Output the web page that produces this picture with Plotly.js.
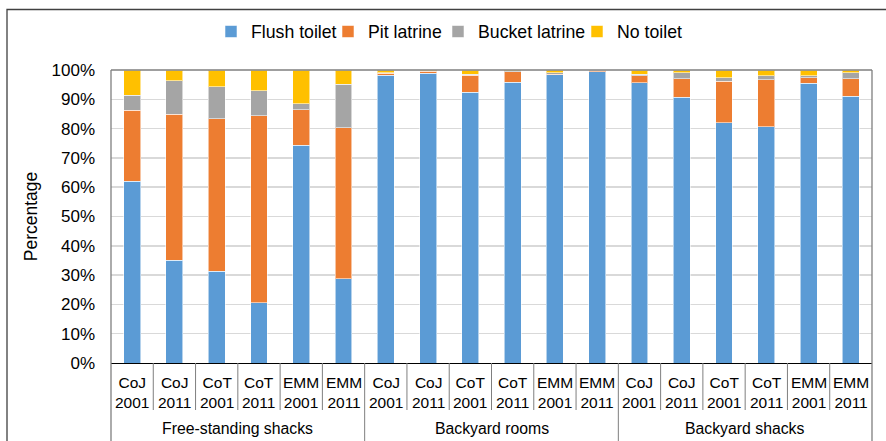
<!DOCTYPE html>
<html>
<head>
<meta charset="utf-8">
<script src="https://cdn.plot.ly/plotly-3.0.1.min.js"></script>
<style>html,body{margin:0;padding:0;background:#fff;}#chart{width:886px;height:441px;}</style>
</head>
<body>
<div id="chart"></div>
<script>
// ---- data ----
const groups = ['Free-standing shacks', 'Backyard rooms', 'Backyard shacks'];
const cities = ['CoJ', 'CoJ', 'CoT', 'CoT', 'EMM', 'EMM'];
const years = ['2001', '2011', '2001', '2011', '2001', '2011'];
const seriesNames = ['Flush toilet', 'Pit latrine', 'Bucket latrine', 'No toilet'];
const flushToilet = [62.0, 35.0, 31.4, 20.5, 74.3, 28.7, 98.2, 98.9, 92.4, 95.8, 98.3, 99.4, 95.6, 90.7, 82.0, 80.6, 95.5, 91.0];
const pitLatrine = [24.3, 49.9, 52.0, 63.9, 12.2, 51.6, 0.7, 0.6, 5.8, 3.6, 0.2, 0.4, 2.4, 6.4, 14.1, 16.1, 1.9, 6.1];
const bucketLatrine = [5.1, 11.5, 10.9, 8.5, 2.0, 14.8, 0.1, 0.2, 0.3, 0.3, 0.6, 0.1, 0.6, 1.9, 1.3, 1.3, 0.7, 2.0];
const noToilet = [8.6, 3.6, 5.7, 7.1, 11.5, 4.9, 1.0, 0.3, 1.5, 0.3, 0.9, 0.1, 1.4, 1.0, 2.6, 2.0, 1.9, 0.9];
const yTicks = [0, 10, 20, 30, 40, 50, 60, 70, 80, 90, 100];

// ---- build ----
const colors = ['#5B9BD5', '#ED7D31', '#A5A5A5', '#FFC000'];
const legendWidths = [72, 65, 94, 70];
const values = [flushToilet, pitLatrine, bucketLatrine, noToilet];
const n = groups.length * cities.length;
const xs = Array.from({length: n}, (_, i) => i);

const traces = values.map((v, k) => ({
  type: 'bar', x: xs, y: v, name: seriesNames[k], legendwidth: legendWidths[k],
  marker: {color: colors[k], line: {color: 'rgba(255,255,255,0.55)', width: 1}},
  hoverinfo: 'y+name'
}));

const FONT = 'Liberation Sans, Arial, sans-serif';
const W = 886, H = 441, ML = 111, MR = 14, MT = 70, MB = 78;
const pw = W - ML - MR, ph = H - MT - MB;
const py = px => (H - MB - px) / ph;   // pixel y -> paper y
const pxX = px => (px - ML) / pw;      // pixel x -> paper x
const xPaper = v => (v + 0.5) / n;     // data x -> paper x (range -0.5..n-0.5)

const shapes = [];
const annotations = [];
const lineC = '#7f7f7f';
for (let i = 0; i < n - 1; i++) {
  const isGroup = (i + 1) % cities.length === 0;
  shapes.push({type: 'line', xref: 'paper', yref: 'paper',
    x0: xPaper(i + 0.5), x1: xPaper(i + 0.5), y0: 0, y1: isGroup ? py(445) : py(410),
    line: {color: lineC, width: 1}});
}
shapes.push({type: 'line', xref: 'paper', yref: 'paper', x0: 0, x1: 0, y0: 1, y1: py(445), line: {color: lineC, width: 1.3}});
shapes.push({type: 'line', xref: 'paper', yref: 'paper', x0: 1, x1: 1, y0: 1, y1: py(445), line: {color: lineC, width: 1.3}});
shapes.push({type: 'line', xref: 'paper', yref: 'paper', x0: 0, x1: 1, y0: 1, y1: 1, line: {color: lineC, width: 1.3}});
shapes.push({type: 'rect', xref: 'paper', yref: 'paper', x0: pxX(7), x1: pxX(900), y0: py(460), y1: py(9.5),
  line: {color: '#404040', width: 1.3}, fillcolor: 'rgba(0,0,0,0)'});

for (let i = 0; i < n; i++) {
  annotations.push({xref: 'x', yref: 'paper', x: i, y: py(392), yanchor: 'middle', xanchor: 'center',
    text: cities[i % cities.length] + '<br>' + years[i % years.length], showarrow: false,
    font: {family: FONT, size: 15.5, color: '#000'}});
}
groups.forEach((g, j) => {
  annotations.push({xref: 'paper', yref: 'paper', x: xPaper(j * cities.length + (cities.length - 1) / 2),
    y: py(428), yanchor: 'middle', xanchor: 'center', text: g, showarrow: false,
    font: {family: FONT, size: 15.8, color: '#000'}});
});

const layout = {
  width: W, height: H,
  margin: {l: ML, r: MR, t: MT, b: MB, pad: 0},
  paper_bgcolor: '#fff', plot_bgcolor: '#fff',
  barmode: 'stack', bargap: 0.6,
  font: {family: FONT, color: '#000'},
  showlegend: true,
  legend: {orientation: 'h', x: pxX(211), xanchor: 'left', y: py(32), yanchor: 'middle',
    font: {family: FONT, size: 17.7, color: '#000'}, traceorder: 'normal', itemclick: false},
  xaxis: {range: [-0.5, n - 0.5], showticklabels: false, ticks: '', showgrid: false, zeroline: false,
    showline: true, linecolor: '#000', linewidth: 1.3, fixedrange: true},
  yaxis: {range: [0, 100], tickvals: yTicks, ticktext: yTicks.map(v => v + '%'),
    showgrid: true, gridcolor: '#d9d9d9', gridwidth: 1.5, zeroline: false, showline: false,
    ticks: '', ticklabelstandoff: 15,
    tickfont: {family: FONT, size: 17, color: '#000'},
    title: {text: 'Percentage', font: {family: FONT, size: 17.5, color: '#000'}, standoff: 9},
    fixedrange: true},
  shapes: shapes,
  annotations: annotations
};

Plotly.newPlot('chart', traces, layout, {displayModeBar: false, staticPlot: true});
</script>
</body>
</html>
